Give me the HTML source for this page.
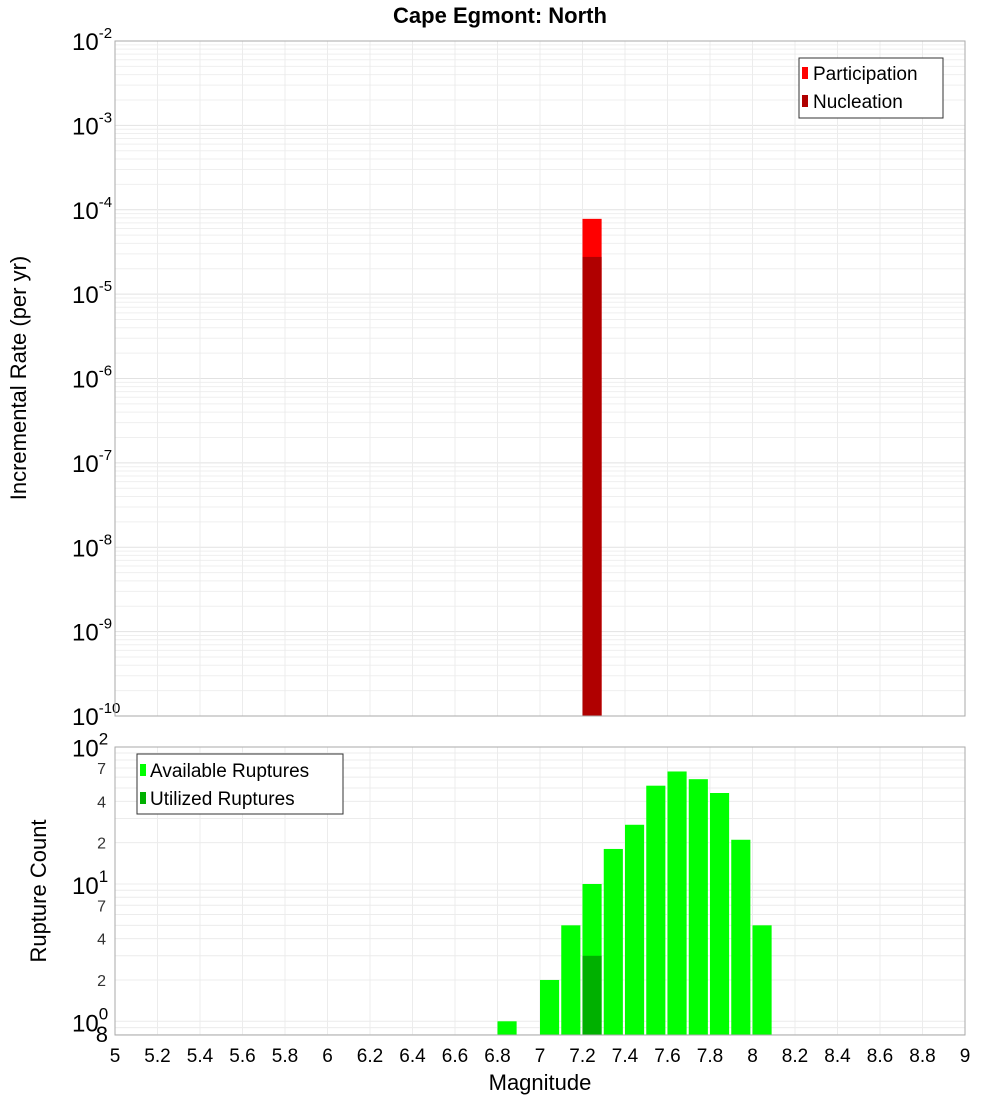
<!DOCTYPE html>
<html><head><meta charset="utf-8"><style>
body{margin:0;background:#fff;width:1000px;height:1100px;overflow:hidden}
text{font-family:"Liberation Sans","DejaVu Sans",sans-serif}
</style></head><body>
<svg id="c" width="1000" height="1100" xmlns="http://www.w3.org/2000/svg">
<text x="500" y="23" text-anchor="middle" font-size="22" font-weight="bold">Cape Egmont: North</text>
<text transform="translate(26,378) rotate(-90)" text-anchor="middle" font-size="22">Incremental Rate (per yr)</text>
<text transform="translate(46,891) rotate(-90)" text-anchor="middle" font-size="22">Rupture Count</text>
<text x="540" y="1090" text-anchor="middle" font-size="22">Magnitude</text>
<g id="topg"></g><g id="botg"></g>
</svg>
<script>
const topMags=[7.2];
const participation=[7.8e-5];
const nucleation=[2.76e-5];
const botMags=[6.8,7.0,7.1,7.2,7.3,7.4,7.5,7.6,7.7,7.8,7.9,8.0];
const available=[1,2,5,10,18,27,52,66,58,46,21,5];
const utilizedMags=[7.2];
const utilized=[3];
const xTicks=[5,5.2,5.4,5.6,5.8,6,6.2,6.4,6.6,6.8,7,7.2,7.4,7.6,7.8,8,8.2,8.4,8.6,8.8,9];
const topExp=[-2,-3,-4,-5,-6,-7,-8,-9,-10];

const NS="http://www.w3.org/2000/svg";
const L=115,R=965;
const x=m=>L+(m-5)/4*(R-L);
const yT=v=>41+(-2-Math.log10(v))*84.375;
const yB=v=>1021.3-Math.log10(v)*137.3;
function mk(p,tag,a){const e=document.createElementNS(NS,tag);for(const k in a)e.setAttribute(k,a[k]);p.appendChild(e);return e;}
const topG=document.getElementById('topg'),botG=document.getElementById('botg');




mk(topG,'rect',{x:L,y:41,width:R-L,height:675,fill:'#fff'});
for(let e=-10;e<-2;e++)for(let k=1;k<10;k++){const yy=yT(k*Math.pow(10,e));
 const g=mk(topG,'line',{x1:L,x2:R,y1:yy,y2:yy,stroke:k==1?'#e2e2e2':'#efefef','stroke-width':1});
 
 }
xTicks.forEach(t=>{const g=mk(topG,'line',{x1:x(t),x2:x(t),y1:41,y2:716,stroke:'#ececec'});
 
 
 const h=mk(botG,'line',{x1:x(t),x2:x(t),y1:747,y2:1035,stroke:'#ececec'});
 
 });
topExp.forEach(e=>{const t=mk(topG,'text',{x:72,y:yT(Math.pow(10,e))+9,'font-size':24});
 
 
 t.appendChild(document.createTextNode('10'));
 const s=mk(t,'tspan',{dy:-12,'font-size':15});s.textContent=String(e);});
topMags.forEach((m,i)=>{
 const p=mk(topG,'rect',{x:x(m),y:yT(participation[i]),width:x(m+0.09)-x(m),height:716-yT(participation[i]),fill:'#ff0000'});
 
 
 const n=mk(topG,'rect',{x:x(m),y:yT(nucleation[i]),width:x(m+0.09)-x(m),height:716-yT(nucleation[i]),fill:'#b00000'});
 
 });
mk(topG,'rect',{x:L,y:41,width:R-L,height:675,fill:'none',stroke:'#aaa'});
const lg=mk(topG,'g',{});


mk(lg,'rect',{x:799,y:58,width:144,height:60,fill:'#fff',stroke:'#333'});
mk(lg,'rect',{x:802,y:67,width:6,height:12,fill:'#ff0000'});
mk(lg,'rect',{x:802,y:95,width:6,height:12,fill:'#b00000'});
let t1=mk(lg,'text',{x:813,y:80,'font-size':19});t1.textContent='Participation';
let t2=mk(lg,'text',{x:813,y:108,'font-size':19});t2.textContent='Nucleation';
for(let e=-1;e<2;e++)for(let k=1;k<10;k++){const v=k*Math.pow(10,e);if(v<0.8)continue;const yy=yB(v);
 const g=mk(botG,'line',{x1:L,x2:R,y1:yy,y2:yy,stroke:'#ececec'});
 
 }
[[1,'0'],[10,'1'],[100,'2']].forEach(a=>{const t=mk(botG,'text',{x:72,y:yB(a[0])+10,'font-size':24});
 
 
 t.appendChild(document.createTextNode('10'));
 const s=mk(t,'tspan',{dy:-12,'font-size':17});s.textContent=a[1];});
[2,4,7,20,40,70].forEach(v=>{const t=mk(botG,'text',{x:106,y:yB(v)+6,'font-size':16,'text-anchor':'end','fill':'#333'});
 
 
 t.textContent=String(v).charAt(0);});
let t8=mk(botG,'text',{x:108,y:1042,'font-size':22,'text-anchor':'end'});t8.textContent='8';


botMags.forEach((m,i)=>{const b=mk(botG,'rect',{x:x(m),y:yB(available[i]),width:x(m+0.09)-x(m),height:1035-yB(available[i]),fill:'#00ff00'});
 
 });
utilizedMags.forEach((m,i)=>{const b=mk(botG,'rect',{x:x(m),y:yB(utilized[i]),width:x(m+0.09)-x(m),height:1035-yB(utilized[i]),fill:'#00b000'});
 
 });
mk(botG,'rect',{x:L,y:747,width:R-L,height:288,fill:'none',stroke:'#aaa'});
xTicks.forEach(t=>{const s=mk(botG,'text',{x:x(t),y:1062,'font-size':19,'text-anchor':'middle'});
 
 
 s.textContent=String(t);});
const lb=mk(botG,'g',{});


mk(lb,'rect',{x:137,y:754,width:206,height:60,fill:'#fff',stroke:'#333'});
mk(lb,'rect',{x:140,y:764,width:6,height:12,fill:'#00ff00'});
mk(lb,'rect',{x:140,y:792,width:6,height:12,fill:'#00b000'});
let t3=mk(lb,'text',{x:150,y:777,'font-size':19});t3.textContent='Available Ruptures';
let t4=mk(lb,'text',{x:150,y:805,'font-size':19});t4.textContent='Utilized Ruptures';
</script>
</body></html>
